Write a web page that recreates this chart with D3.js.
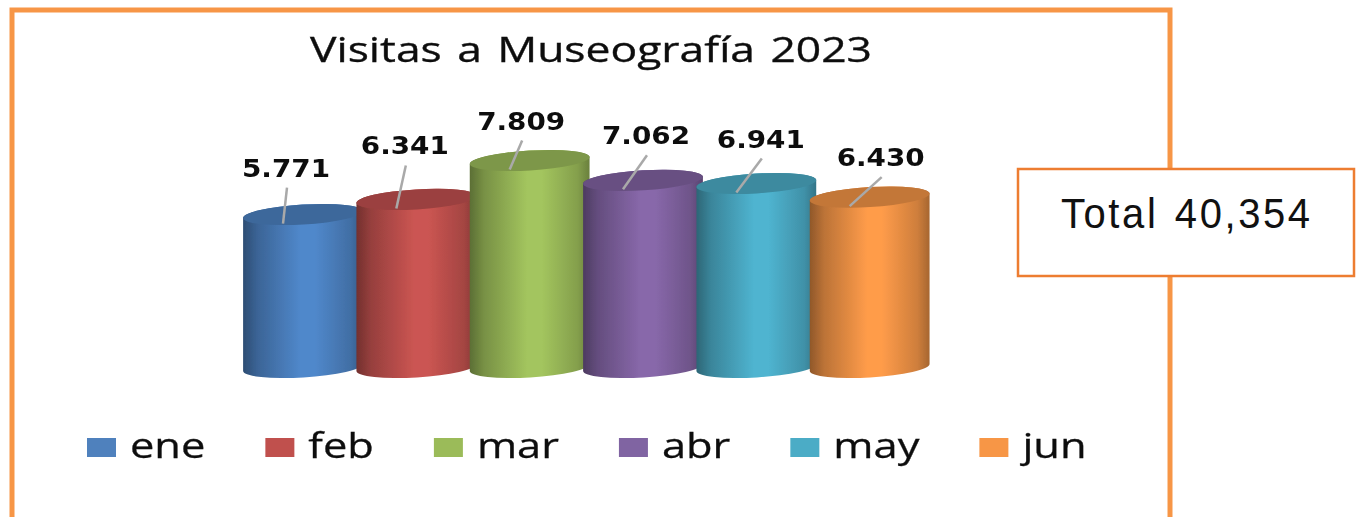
<!DOCTYPE html>
<html>
<head>
<meta charset="utf-8">
<script src="https://cdn.jsdelivr.net/npm/d3@7"></script>
<style>
  html, body { margin: 0; padding: 0; background: #fff; overflow: hidden; }
  svg { display: block; }
</style>
</head>
<body>
<div id="chart"></div>
<script>
// chart data
const months = ["ene", "feb", "mar", "abr", "may", "jun"];
const visits = [5771, 6341, 7809, 7062, 6941, 6430];
const valueLabels = ["5.771", "6.341", "7.809", "7.062", "6.941", "6.430"];
const baseColors = ["#4f81bd", "#c0504d", "#9bbb59", "#8064a2", "#4bacc6", "#f79646"];
const barColors = ["#5088cb", "#cb5552", "#a3c55e", "#8868aa", "#4fb4d0", "#ff9c4a"];
const chartTitle = "Visitas a Museografía 2023";
const totalText = "Total 40,354";

const width = 1356, height = 517;
const cylWidth = 120, ry = 10, tilt = -3.4;

// labels were moved by hand in the original, leader end relative to the bar top
const leaderDx = [4, 9.5, 12.5, 24, 25.5, 32];
const leaderDy = [-36, -43, -29, -34, -34, -29];

const svg = d3.select("#chart").append("svg")
    .attr("width", width)
    .attr("height", height);

const defs = svg.append("defs");
defs.append("filter").attr("id", "soft")
    .append("feGaussianBlur").attr("stdDeviation", 0.5);
defs.append("filter").attr("id", "softer")
    .append("feGaussianBlur").attr("stdDeviation", 0.4);

// scales
const x = d3.scaleBand().domain(months).range([243, 923]);
const y = d3.scaleLinear().domain([0, 7809]).range([367.5, 160.5]);
const color = d3.scaleOrdinal().domain(months).range(barColors);

// outer frame, runs off the bottom of the page
svg.append("rect")
    .attr("x", 12).attr("y", 10)
    .attr("width", 1158).attr("height", 560)
    .attr("fill", "none")
    .attr("stroke", "#f79646")
    .attr("stroke-width", 5);

// title
svg.append("text")
    .attr("x", 591).attr("y", 62)
    .attr("text-anchor", "middle")
    .attr("font-family", "Open Sans")
    .attr("font-size", 35)
    .attr("word-spacing", 3)
    .attr("textLength", 562)
    .attr("lengthAdjust", "spacingAndGlyphs")
    .attr("fill", "#111")
    .attr("stroke", "#111")
    .attr("stroke-width", 0.35)
    .attr("filter", "url(#soft)")
    .text(chartTitle);

// side shading per cylinder
months.forEach(m => {
    const c = d3.color(color(m));
    const grad = defs.append("linearGradient").attr("id", "side-" + m);
    grad.append("stop").attr("offset", "0%").attr("stop-color", c.darker(1.6));
    grad.append("stop").attr("offset", "12%").attr("stop-color", c.darker(0.85));
    grad.append("stop").attr("offset", "48%").attr("stop-color", c);
    grad.append("stop").attr("offset", "60%").attr("stop-color", c);
    grad.append("stop").attr("offset", "90%").attr("stop-color", c.darker(0.6));
    grad.append("stop").attr("offset", "100%").attr("stop-color", c.darker(1.2));
});

const dx = cylWidth / 2 * Math.cos(tilt * Math.PI / 180);
const dy = cylWidth / 2 * Math.sin(tilt * Math.PI / 180);
const cx = m => x(m) + cylWidth / 2;

const bars = svg.selectAll("g.bar")
    .data(months.map((m, i) => ({month: m, value: visits[i], label: valueLabels[i]})))
    .join("g")
    .attr("class", "bar")
    .attr("filter", "url(#softer)");

// cylinder body
bars.append("path")
    .attr("fill", d => `url(#side-${d.month})`)
    .attr("d", d => {
        const c = cx(d.month), t = y(d.value), b = y(0);
        return `M${c - dx},${t - dy} L${c - dx},${b - dy} ` +
            `A${cylWidth / 2},${ry} ${tilt} 0 0 ${c + dx},${b + dy} ` +
            `L${c + dx},${t + dy} ` +
            `A${cylWidth / 2},${ry} ${tilt} 0 0 ${c - dx},${t - dy} Z`;
    });

// cylinder top
bars.append("ellipse")
    .attr("cx", d => cx(d.month))
    .attr("cy", d => y(d.value))
    .attr("rx", cylWidth / 2)
    .attr("ry", ry)
    .attr("transform", d => `rotate(${tilt},${cx(d.month)},${y(d.value)})`)
    .attr("fill", d => d3.color(color(d.month)).darker(0.75));

// leader lines
const leaderX = m => x(m) + 40;
const leaderY = (m, i) => y(visits[i]) + 9;
svg.selectAll("line.leader")
    .data(months)
    .join("line")
    .attr("class", "leader")
    .attr("x1", leaderX)
    .attr("y1", leaderY)
    .attr("x2", (m, i) => leaderX(m) + leaderDx[i])
    .attr("y2", (m, i) => leaderY(m, i) + leaderDy[i])
    .attr("stroke", "#a9a9a9")
    .attr("stroke-width", 2.5);

// value labels
svg.selectAll("text.value")
    .data(months)
    .join("text")
    .attr("class", "value")
    .attr("x", (m, i) => leaderX(m) + leaderDx[i] - 1)
    .attr("y", (m, i) => leaderY(m, i) + leaderDy[i] - 11)
    .attr("text-anchor", "middle")
    .attr("font-family", "DejaVu Sans")
    .attr("font-weight", "bold")
    .attr("font-size", 25)
    .attr("textLength", 88)
    .attr("lengthAdjust", "spacingAndGlyphs")
    .attr("fill", "#111")
    .attr("filter", "url(#soft)")
    .text((m, i) => valueLabels[i]);

// legend, entries flow one after the other and the text is stretched wide
const legend = svg.selectAll("g.legend")
    .data(months)
    .join("g")
    .attr("class", "legend");

legend.append("rect")
    .attr("width", 29).attr("height", 19)
    .attr("fill", (m, i) => baseColors[i]);

const legendText = legend.append("text")
    .attr("x", 43).attr("y", 20)
    .attr("font-family", "Open Sans")
    .attr("font-size", 35)
    .attr("fill", "#111")
    .attr("stroke", "#111")
    .attr("stroke-width", 0.3)
    .attr("filter", "url(#soft)")
    .text(m => m);

let legendPos = 87;
legendText.each(function () {
    const w = this.getComputedTextLength() * 1.24;
    d3.select(this)
        .attr("textLength", w)
        .attr("lengthAdjust", "spacingAndGlyphs");
    d3.select(this.parentNode).attr("transform", `translate(${legendPos},438)`);
    legendPos += 43 + w + 60;
});

// total box
svg.append("rect")
    .attr("x", 1018).attr("y", 169)
    .attr("width", 336).attr("height", 107)
    .attr("fill", "#fff")
    .attr("stroke", "#ed7d31")
    .attr("stroke-width", 2.5);

// narrow glyphs with open spacing
const totalSquash = 0.93;
svg.append("text")
    .attr("transform", `translate(1061,228) scale(${totalSquash},1)`)
    .attr("font-family", "Liberation Sans")
    .attr("font-size", 43)
    .attr("word-spacing", 3)
    .attr("textLength", 249 / totalSquash)
    .attr("lengthAdjust", "spacing")
    .attr("fill", "#111")
    .text(totalText);
</script>
</body>
</html>
